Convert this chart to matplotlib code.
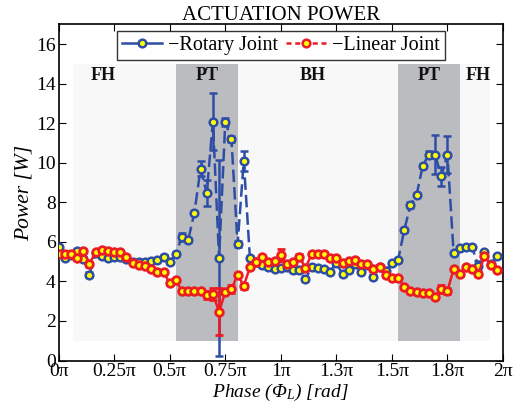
import numpy as np
import matplotlib
matplotlib.use("Agg")
import matplotlib.pyplot as plt
from matplotlib.lines import Line2D
from matplotlib.patches import Rectangle

plt.rcParams['font.family'] = ['Liberation Serif', 'DejaVu Serif']
plt.rcParams['mathtext.fontset'] = 'custom'
plt.rcParams['mathtext.rm'] = 'Liberation Serif'
plt.rcParams['mathtext.it'] = 'Liberation Serif:italic'

# phase samples in units of pi (72 steps over one cycle)
phase = [k * 2.0 / 72 for k in range(72)]

rotary_power = [5.73, 5.20, 5.35, 5.56, 5.15, 4.35, 5.45, 5.29, 5.20, 5.26,
                5.26, 5.12, 5.00, 5.00, 5.00, 5.04, 5.09, 5.26, 4.97, 5.41,
                6.27, 6.10, 7.48, 9.70, 8.47, 12.09, 5.17, 12.06, 11.20, 5.88,
                10.10, 5.18, 5.00, 4.84, 4.75, 4.62, 4.67, 4.75, 4.57, 4.58,
                4.12, 4.72, 4.70, 4.62, 4.50, 4.92, 4.38, 4.56, 4.86, 4.50,
                4.85, 4.24, 4.72, 4.55, 4.92, 5.08, 6.59, 7.87, 8.38, 9.86,
                10.42, 10.42, 9.31, 10.42, 5.43, 5.68, 5.73, 5.73, 4.77, 5.48,
                4.90, 5.27]

rotary_err = [0.08, 0.08, 0.08, 0.08, 0.08, 0.15, 0.08, 0.08, 0.08, 0.08,
              0.08, 0.08, 0.08, 0.08, 0.08, 0.08, 0.08, 0.08, 0.08, 0.08,
              0.20, 0.10, 0.08, 0.37, 0.65, 1.43, 4.95, 0.20, 0.15, 0.15,
              0.52, 0.08, 0.08, 0.08, 0.08, 0.08, 0.08, 0.08, 0.08, 0.08,
              0.08, 0.08, 0.08, 0.08, 0.08, 0.08, 0.08, 0.08, 0.08, 0.08,
              0.08, 0.08, 0.08, 0.08, 0.08, 0.08, 0.10, 0.15, 0.08, 0.10,
              0.20, 1.00, 0.50, 0.92, 0.08, 0.08, 0.08, 0.08, 0.25, 0.08,
              0.08, 0.08]

linear_power = [5.38, 5.41, 5.40, 5.21, 5.55, 4.89, 5.48, 5.60, 5.54, 5.50,
                5.48, 5.22, 4.95, 4.85, 4.78, 4.62, 4.46, 4.46, 3.92, 4.05,
                3.51, 3.52, 3.51, 3.52, 3.33, 3.36, 2.47, 3.46, 3.60, 4.35,
                3.78, 4.72, 4.97, 5.22, 4.97, 5.05, 5.34, 4.87, 4.97, 5.26,
                4.67, 5.39, 5.39, 5.39, 5.17, 5.17, 4.95, 5.05, 5.09, 4.86,
                4.87, 4.63, 4.75, 4.33, 4.19, 4.19, 3.71, 3.53, 3.45, 3.40,
                3.40, 3.23, 3.62, 3.53, 4.62, 4.38, 4.72, 4.62, 4.38, 5.29,
                4.84, 4.58]

linear_err = [0.08, 0.08, 0.08, 0.08, 0.08, 0.08, 0.08, 0.08, 0.08, 0.08,
              0.08, 0.08, 0.08, 0.08, 0.08, 0.08, 0.08, 0.08, 0.08, 0.08,
              0.08, 0.08, 0.08, 0.08, 0.20, 0.30, 1.20, 0.08, 0.20, 0.08,
              0.15, 0.08, 0.08, 0.08, 0.08, 0.08, 0.30, 0.08, 0.08, 0.15,
              0.08, 0.08, 0.08, 0.08, 0.08, 0.08, 0.08, 0.08, 0.08, 0.08,
              0.08, 0.08, 0.08, 0.08, 0.08, 0.08, 0.08, 0.08, 0.08, 0.08,
              0.08, 0.08, 0.20, 0.15, 0.08, 0.08, 0.08, 0.08, 0.08, 0.08,
              0.08, 0.08]

xtick_pos = [0, 0.25, 0.5, 0.75, 1.0, 1.25, 1.5, 1.75, 2.0]
xtick_labels = ['0π', '0.25π', '0.5π', '0.75π', '1π', '1.3π', '1.5π', '1.8π', '2π']

# push-through bands of the gait cycle
phase_bands = [(0.528, 0.806), (1.528, 1.806)]
phase_names = [('FH', 0.20), ('PT', 0.667), ('BH', 1.145), ('PT', 1.667), ('FH', 1.89)]

blue = '#2e4ea6'
red = '#ec1c24'

fig = plt.figure(figsize=(5.14, 4.08), dpi=100)
ax = fig.add_axes([0.114, 0.1164, 0.8646, 0.8236])

ax.add_patch(Rectangle((0.064, 1), 1.94 - 0.064, 14, facecolor='#f8f8f8',
                       edgecolor='none', zorder=0))
for x0, x1 in phase_bands:
    ax.add_patch(Rectangle((x0, 1), x1 - x0, 14, facecolor='#bbbcbf',
                           edgecolor='none', zorder=0.5))
for name, xp in phase_names:
    ax.text(xp, 14.4, name, ha='center', va='center', fontsize=13,
            fontweight='bold', color='#111111', zorder=1)

ax.errorbar(phase, rotary_power, yerr=rotary_err, color=blue, lw=1.8,
            ls=(0, (5, 2)), marker='o', ms=5.5, mfc='#ffff00', mec=blue,
            mew=1.8, ecolor=blue, elinewidth=1.8, capsize=3.2, capthick=1.8,
            zorder=3)
ax.errorbar(phase, linear_power, yerr=linear_err, color=red, lw=1.8,
            ls='-', marker='o', ms=5.5, mfc='#ffff00', mec=red,
            mew=2.0, ecolor=red, elinewidth=1.8, capsize=3.2, capthick=1.8,
            zorder=4)

ax.set_xlim(0, 2)
ax.set_ylim(0, 17)
ax.set_xticks(xtick_pos)
ax.set_xticklabels(xtick_labels)
ax.set_yticks(range(0, 17, 2))
ax.tick_params(direction='in', top=True, right=True, labelsize=14, length=5,
               width=0.8, pad=2)
for s in ax.spines.values():
    s.set_linewidth(1.2)

ax.set_title('ACTUATION POWER', fontsize=15, pad=3)
ax.set_xlabel('Phase (Φ$_L$) [rad]', fontsize=14, style='italic', labelpad=1)
ax.set_ylabel('Power [W]', fontsize=15.5, style='italic', labelpad=2)

handles = [Line2D([], [], color=blue, lw=1.8, ls='-', marker='o', ms=5.5,
                  mfc='#ffff00', mec=blue, mew=1.8),
           Line2D([], [], color=red, lw=1.8, ls=(0, (2, 1.5)), marker='o', ms=5.5,
                  mfc='#ffff00', mec=red, mew=1.8)]
leg = ax.legend(handles, ['−Rotary Joint', '−Linear Joint'], loc='upper center',
                bbox_to_anchor=(0.5, 0.98), ncol=2, fontsize=14.5, frameon=True,
                fancybox=False, handlelength=2.0, handletextpad=0.3,
                columnspacing=0.4, borderpad=0.25, borderaxespad=0)
leg.get_frame().set_edgecolor('black')
leg.get_frame().set_linewidth(1.0)

fig.savefig('out.png', dpi=100)
